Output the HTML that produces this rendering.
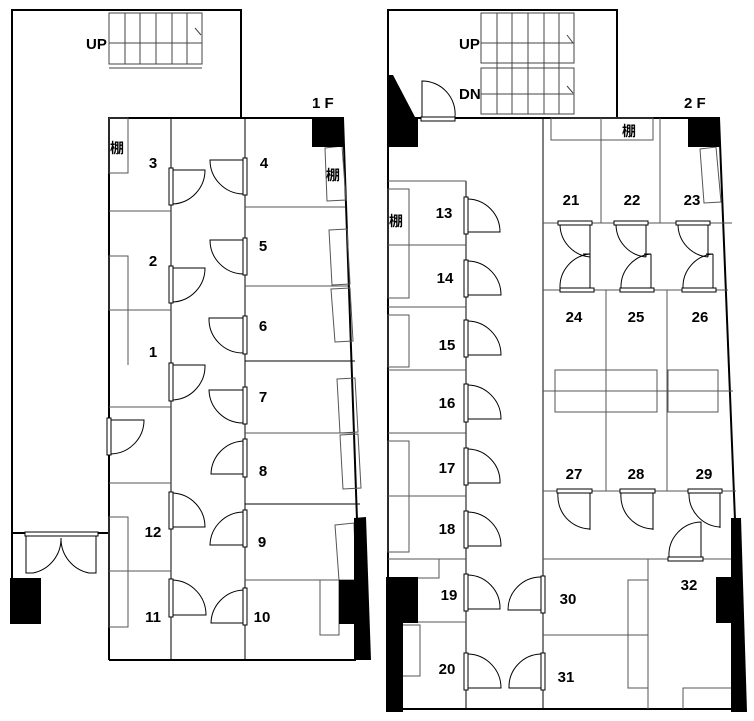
<!DOCTYPE html>
<html><head><meta charset="utf-8"><style>
html,body{margin:0;padding:0;background:#fff;}
svg{display:block;}
text{font-family:"Liberation Sans","Noto Sans CJK JP",sans-serif;font-weight:bold;font-size:15px;fill:#000;}
.t{font-size:14px;}
</style></head><body>
<svg width="754" height="721" viewBox="0 0 754 721" xmlns="http://www.w3.org/2000/svg">
<g fill="none" stroke="#000" stroke-width="1">
<!-- ===== 1F ===== -->
<path d="M12,578 V10 H241 V118" stroke-width="2"/>
<path d="M12,533 H25 M98,533 H109" stroke-width="2"/>
<!-- stairs -->
<g stroke="#444">
<rect x="109" y="13" width="93" height="51"/>
<line x1="109" y1="43" x2="202" y2="43"/>
<line x1="125" y1="13" x2="125" y2="64"/><line x1="140" y1="13" x2="140" y2="64"/><line x1="156" y1="13" x2="156" y2="64"/><line x1="172" y1="13" x2="172" y2="64"/><line x1="187" y1="13" x2="187" y2="64"/>
<line x1="109" y1="68" x2="202" y2="68"/><line x1="195" y1="28" x2="201" y2="35"/>
</g>
<!-- main -->
<path d="M109,660 V118 H343 L357,520" stroke-width="2"/>
<path d="M109,660 H356" stroke-width="2"/>
<line x1="171" y1="118" x2="171" y2="660"/>
<line x1="245" y1="118" x2="245" y2="660"/>
<g stroke="#555">
<line x1="109" y1="211" x2="171" y2="211"/>
<line x1="109" y1="310" x2="171" y2="310"/>
<line x1="109" y1="407" x2="171" y2="407"/>
<line x1="109" y1="483" x2="171" y2="483"/>
<line x1="109" y1="571" x2="171" y2="571"/>
<line x1="245" y1="207" x2="345" y2="207"/>
<line x1="245" y1="286" x2="348" y2="286"/>
<line x1="245" y1="433" x2="354" y2="433"/>
<line x1="245" y1="580" x2="339" y2="580"/>
<rect x="109" y="118" width="19" height="55"/>
<rect x="109" y="256" width="19" height="54"/>
<path d="M109,310 H128 V365"/>
<rect x="109" y="517" width="19" height="110"/>
<path d="M325,148 L342,146 L346,200 L327,201 Z"/>
<path d="M329,230 L347,229 L350,284 L332,285 Z"/>
<path d="M331,289 L350,288 L353,341 L335,342 Z"/>
<path d="M337,379 L355,378 L358,432 L340,433 Z"/>
<path d="M340,435 L358,434 L361,488 L343,489 Z"/>
<path d="M335,525 L354,523 L356,580 L339,580 Z"/>
<rect x="320" y="580" width="19" height="55"/>
</g>
<line x1="245" y1="361" x2="355" y2="361"/>
<line x1="245" y1="504" x2="360" y2="504"/>
<!-- 1F doors right-opening at 171 -->
<g>
<rect x="169" y="168" width="4" height="37" fill="#fff"/><path d="M173,170 H205 A34 34 0 0 1 173,204"/>
<rect x="169" y="266" width="4" height="37" fill="#fff"/><path d="M173,268 H205 A34 34 0 0 1 173,302"/>
<rect x="169" y="363" width="4" height="38" fill="#fff"/><path d="M173,365 H205 A34 34 0 0 1 173,400"/>
<rect x="169" y="492" width="4" height="37" fill="#fff"/><path d="M173,527 H205 A34 34 0 0 0 173,493"/>
<rect x="169" y="579" width="4" height="38" fill="#fff"/><path d="M173,615 H206 A35 35 0 0 0 173,580"/>
<rect x="107" y="418" width="4" height="37" fill="#fff"/><path d="M111,420 H144 A34 34 0 0 1 111,454"/>
<!-- left-opening at 245 -->
<rect x="243" y="158" width="4" height="37" fill="#fff"/><path d="M243,160 H210 A34 34 0 0 0 243,194"/>
<rect x="243" y="238" width="4" height="37" fill="#fff"/><path d="M243,240 H210 A34 34 0 0 0 243,274"/>
<rect x="243" y="316" width="4" height="38" fill="#fff"/><path d="M243,318 H209 A34 34 0 0 0 243,353"/>
<rect x="243" y="387" width="4" height="37" fill="#fff"/><path d="M243,390 H209 A34 34 0 0 0 243,423"/>
<rect x="243" y="439" width="4" height="38" fill="#fff"/><path d="M243,474 H211 A34 34 0 0 1 243,441"/>
<rect x="243" y="510" width="4" height="37" fill="#fff"/><path d="M243,545 H210 A34 34 0 0 1 243,512"/>
<rect x="243" y="588" width="4" height="37" fill="#fff"/><path d="M243,623 H211 A34 34 0 0 1 243,590"/>
<!-- entrance -->
<rect x="25" y="532" width="73" height="4" fill="#fff"/>
<path d="M26,536 V573 H33 A35 35 0 0 0 61,538"/>
<path d="M96,536 V573 H89 A35 35 0 0 1 61,538"/>
</g>

<!-- ===== 2F ===== -->
<path d="M388,712 V10 H617 V118" stroke-width="2"/>
<path d="M417,118 H719 L735,520" stroke-width="2"/>
<path d="M403,709 H732" stroke-width="2"/>
<g stroke="#444">
<rect x="481" y="13" width="93" height="50"/><line x1="481" y1="43" x2="574" y2="43"/>
<rect x="481" y="68" width="93" height="46"/><line x1="481" y1="94" x2="574" y2="94"/>
<path d="M497,13 V114 M512,13 V114 M528,13 V114 M544,13 V114 M559,13 V114"/>
<line x1="567" y1="35" x2="573" y2="43"/><line x1="567" y1="86" x2="573" y2="93"/>
</g>
<rect x="421" y="117" width="34" height="4" fill="#fff"/><path d="M422,117 V81 A33 33 0 0 1 455,117"/>
<line x1="466" y1="181" x2="466" y2="709"/>
<line x1="543" y1="118" x2="543" y2="709"/>
<g stroke="#555">
<line x1="388" y1="181" x2="466" y2="181"/>
<line x1="388" y1="245" x2="466" y2="245"/>
<line x1="388" y1="307" x2="466" y2="307"/>
<line x1="388" y1="370" x2="466" y2="370"/>
<line x1="388" y1="433" x2="466" y2="433"/>
<line x1="388" y1="496" x2="466" y2="496"/>
<line x1="388" y1="559" x2="466" y2="559"/>
<line x1="418" y1="622" x2="466" y2="622"/>
<path d="M439,559 V578 H418"/>
<rect x="388" y="189" width="21" height="109"/>
<rect x="388" y="315" width="21" height="52"/>
<rect x="388" y="441" width="21" height="111"/>
<path d="M403,625 H420 V676 H403"/>
<!-- middle -->
<line x1="543" y1="223" x2="732" y2="223"/>
<line x1="601" y1="118" x2="601" y2="223"/>
<line x1="660" y1="118" x2="660" y2="223"/>
<rect x="551" y="118" width="102" height="22"/><line x1="601" y1="118" x2="601" y2="140"/>
<path d="M700,149 L716,147 L721,202 L704,203 Z"/>
<line x1="543" y1="290" x2="728" y2="290"/>
<line x1="606" y1="290" x2="606" y2="491"/>
<line x1="667" y1="290" x2="667" y2="491"/>
<line x1="543" y1="491" x2="736" y2="491"/>
<line x1="543" y1="391" x2="733" y2="391"/>
<rect x="555" y="370" width="102" height="42"/>
<rect x="668" y="370" width="50" height="42"/>
<line x1="543" y1="559" x2="732" y2="559"/>
<line x1="543" y1="635" x2="648" y2="635"/>
<line x1="648" y1="559" x2="648" y2="709"/>
<path d="M648,580 H628 V688 H648"/>
<path d="M683,709 V688 H732"/>
</g>
<!-- 2F left column doors -->
<g>
<rect x="464" y="197" width="4" height="37" fill="#fff"/><path d="M468,232 H500 A33 33 0 0 0 468,199"/>
<rect x="464" y="260" width="4" height="37" fill="#fff"/><path d="M468,295 H501 A34 34 0 0 0 468,261"/>
<rect x="464" y="320" width="4" height="37" fill="#fff"/><path d="M468,355 H501 A34 34 0 0 0 468,321"/>
<rect x="464" y="384" width="4" height="38" fill="#fff"/><path d="M468,419 H501 A34 34 0 0 0 468,385"/>
<rect x="464" y="448" width="4" height="37" fill="#fff"/><path d="M468,483 H500 A33 33 0 0 0 468,449"/>
<rect x="464" y="511" width="4" height="37" fill="#fff"/><path d="M468,546 H501 A34 34 0 0 0 468,512"/>
<rect x="464" y="574" width="4" height="37" fill="#fff"/><path d="M468,609 H500 A33 33 0 0 0 468,575"/>
<rect x="464" y="653" width="4" height="37" fill="#fff"/><path d="M468,688 H501 A34 34 0 0 0 468,654"/>
<rect x="541" y="576" width="4" height="37" fill="#fff"/><path d="M541,610 H508 A33 33 0 0 1 541,577"/>
<rect x="541" y="653" width="4" height="37" fill="#fff"/><path d="M541,688 H509 A33 33 0 0 1 541,654"/>
<!-- paired doors 21-26 -->
<rect x="558" y="221" width="34" height="4" fill="#fff"/><path d="M560,225 A33 33 0 0 0 590,257 M590,225 V257"/>
<rect x="560" y="288" width="34" height="4" fill="#fff"/><path d="M560,288 A33 33 0 0 1 590,254 H583 M590,254 V288"/>
<rect x="614" y="221" width="34" height="4" fill="#fff"/><path d="M616,225 A33 33 0 0 0 646,257 M646,225 V257"/>
<rect x="620" y="288" width="34" height="4" fill="#fff"/><path d="M621,288 A33 33 0 0 1 651,254 H644 M651,254 V288"/>
<rect x="676" y="221" width="34" height="4" fill="#fff"/><path d="M678,225 A33 33 0 0 0 708,257 M708,225 V257"/>
<rect x="682" y="288" width="34" height="4" fill="#fff"/><path d="M683,288 A33 33 0 0 1 713,254 H706 M713,254 V288"/>
<!-- 27-29 -->
<rect x="557" y="489" width="35" height="4" fill="#fff"/><path d="M558,493 A33 33 0 0 0 590,529 M590,493 V530"/>
<rect x="620" y="489" width="35" height="4" fill="#fff"/><path d="M621,493 A33 33 0 0 0 653,529 M653,493 V530"/>
<rect x="688" y="489" width="34" height="4" fill="#fff"/><path d="M689,493 A33 33 0 0 0 720,527 M720,493 V528"/>
<rect x="668" y="557" width="35" height="4" fill="#fff"/><path d="M669,557 A33 33 0 0 1 701,522 V557"/>
</g>
</g>
<!-- black walls -->
<g fill="#000">
<rect x="312" y="118" width="32" height="29"/>
<polygon points="354,518 366,517 371,660 354,660"/>
<rect x="339" y="580" width="16" height="44"/>
<rect x="10" y="578" width="31" height="46"/>
<polygon points="389,75 393,75 415,117 418,117 418,147 389,147"/>
<rect x="688" y="118" width="32" height="29"/>
<polygon points="731,518 741,518 747,712 731,712"/>
<rect x="716" y="577" width="16" height="46"/>
<rect x="386" y="577" width="32" height="46"/>
<rect x="386" y="623" width="17" height="89"/>
</g>
<!-- labels -->
<text x="86" y="49">UP</text>
<text x="312" y="108" font-size="18">1 F</text>
<text x="459" y="49">UP</text>
<text x="459" y="99">DN</text>
<text x="684" y="108" font-size="18">2 F</text>
<text class="t" x="110" y="153">棚</text>
<text class="t" x="326" y="180">棚</text>
<text class="t" x="389" y="226">棚</text>
<text class="t" x="622" y="136">棚</text>
<g text-anchor="middle">
<text x="153" y="168">3</text><text x="264" y="168">4</text>
<text x="153" y="266">2</text><text x="263" y="251">5</text>
<text x="153" y="357">1</text><text x="263" y="331">6</text>
<text x="263" y="402">7</text><text x="263" y="476">8</text>
<text x="153" y="537">12</text><text x="262" y="547">9</text>
<text x="153" y="622">11</text><text x="262" y="622">10</text>
<text x="444" y="218">13</text><text x="445" y="283">14</text><text x="447" y="350">15</text>
<text x="447" y="408">16</text><text x="447" y="473">17</text><text x="447" y="534">18</text>
<text x="449" y="600">19</text><text x="447" y="674">20</text>
<text x="571" y="205">21</text><text x="632" y="205">22</text><text x="692" y="205">23</text>
<text x="574" y="322">24</text><text x="636" y="322">25</text><text x="700" y="322">26</text>
<text x="574" y="479">27</text><text x="636" y="479">28</text><text x="704" y="479">29</text>
<text x="568" y="604">30</text><text x="566" y="682">31</text><text x="689" y="590">32</text>
</g>
</svg>
</body></html>
